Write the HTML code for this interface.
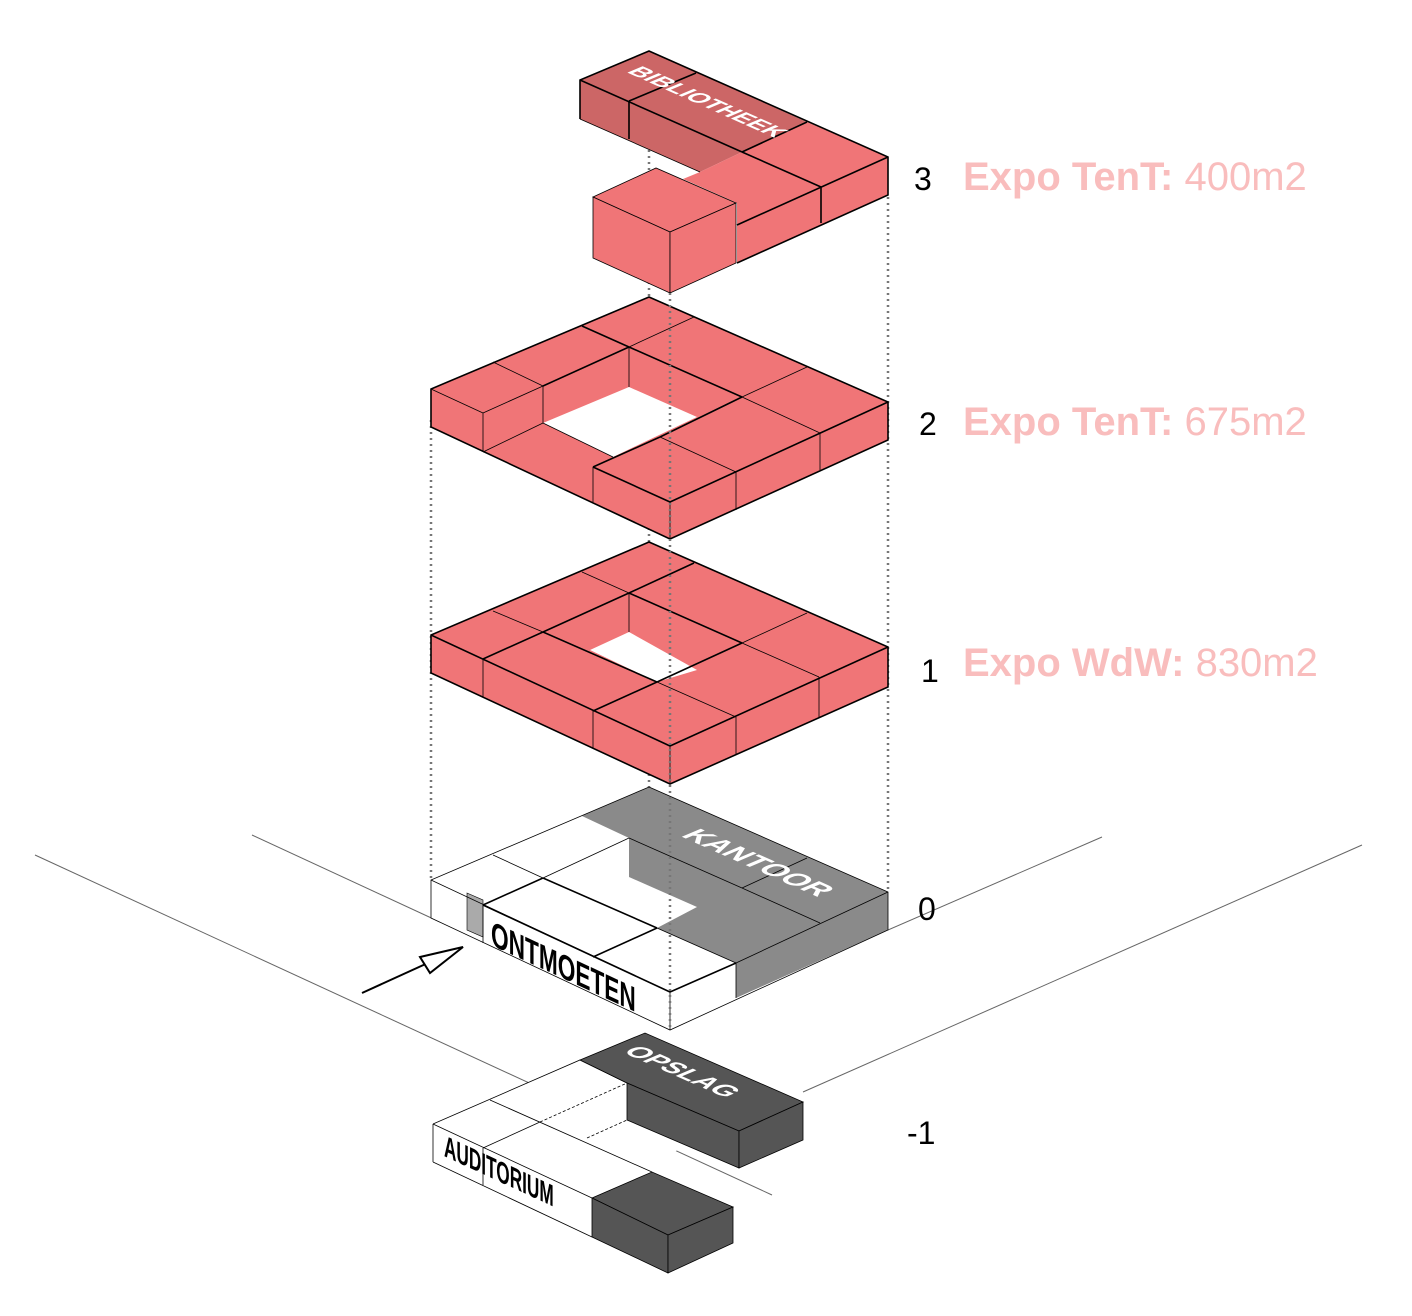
<!DOCTYPE html>
<html><head><meta charset="utf-8"><style>
html,body{margin:0;padding:0;background:#fff}
svg{display:block}
.t{stroke:#000;stroke-width:.8;fill:none}
.k{stroke:#000;stroke-width:1.6;fill:none}
.d{stroke:#777;stroke-width:2.5;stroke-dasharray:2 4;fill:none}
.g{stroke:#666;stroke-width:1;fill:none}
</style></head><body>
<svg width="1412" height="1316" viewBox="0 0 1412 1316" xmlns="http://www.w3.org/2000/svg" font-family="Liberation Sans, sans-serif">
<line class="g" x1="35" y1="855" x2="772" y2="1195"/>
<line class="g" x1="252" y1="835" x2="440" y2="922"/>
<line class="g" x1="1102" y1="837" x2="888" y2="930"/>
<line class="g" x1="1362" y1="845" x2="803" y2="1092"/>

<line class="d" x1="649" y1="150" x2="649" y2="790"/>
<line class="d" x1="431" y1="420" x2="431" y2="880"/>
<line class="d" x1="888" y1="197" x2="888" y2="892"/>

<!-- LEVEL 3 -->
<polygon points="580,80 649,51 807,122 742,152 700,172 580,119" fill="#CC6666"/>
<polygon points="683,179 700,172 742,152 807,122 888,157 888,195 737,263 737,203" fill="#F07577"/>
<polyline class="k" points="580,119 580,80 649,51 888,157 888,195 737,263"/>
<line class="k" x1="580" y1="80" x2="742" y2="152"/>
<line class="t" x1="580" y1="119" x2="700" y2="172"/>
<line class="k" x1="629" y1="101" x2="696" y2="73"/>
<line class="k" x1="629" y1="101" x2="629" y2="139"/>
<line class="k" x1="742" y1="152" x2="807" y2="122"/>
<line class="k" x1="742" y1="152" x2="821" y2="187"/>
<line class="k" x1="737" y1="225" x2="888" y2="157"/>
<line class="k" x1="821" y1="187" x2="821" y2="223"/>
<polygon points="593,197 656,168 736,203 670,232" fill="#F07577" stroke="#000" stroke-width=".8"/>
<polygon points="593,197 670,232 670,293 593,258" fill="#F07577" stroke="#000" stroke-width=".8"/>
<polygon points="670,232 736,203 736,263 670,293" fill="#F07577" stroke="#000" stroke-width=".8"/>
<text transform="matrix(0.914,0.405,-0.92,0.39,626,72)" font-size="24" font-weight="bold" fill="#fff">BIBLIOTHEEK</text>

<!-- LEVEL 2 -->
<polygon points="649,297 888,402 888,440 670,539 431,427 431,389" fill="#F07577"/>
<polygon points="543,423 629,387 697,417 613,457" fill="#fff"/>
<polygon class="k" points="649,297 888,402 888,440 670,539 431,427 431,389"/>
<line class="t" x1="431" y1="389" x2="483" y2="413"/>
<line class="t" x1="483" y1="413" x2="543" y2="386"/>
<line class="t" x1="483" y1="413" x2="483" y2="452"/>
<line class="t" x1="483" y1="452" x2="543" y2="423"/>
<line class="t" x1="493" y1="362" x2="543" y2="386"/>
<line class="t" x1="543" y1="386" x2="543" y2="423"/>
<line class="k" x1="543" y1="386" x2="629" y2="347"/>
<line class="k" x1="582" y1="326" x2="629" y2="347"/>
<line class="t" x1="629" y1="347" x2="629" y2="387"/>
<line class="k" x1="629" y1="347" x2="742" y2="397"/>
<line class="t" x1="694" y1="317" x2="629" y2="347"/>
<line class="t" x1="807" y1="367" x2="742" y2="397"/>
<line class="k" x1="742" y1="397" x2="660" y2="437"/>
<line class="t" x1="742" y1="397" x2="820" y2="433"/>
<line class="t" x1="820" y1="433" x2="888" y2="402"/>
<line class="t" x1="543" y1="423" x2="613" y2="457"/>
<line class="k" x1="593" y1="467" x2="670" y2="502"/>
<line class="k" x1="593" y1="467" x2="660" y2="437"/>
<line class="t" x1="660" y1="437" x2="736" y2="472"/>
<line class="k" x1="670" y1="502" x2="888" y2="402"/>
<line class="t" x1="593" y1="467" x2="593" y2="502"/>
<line class="t" x1="670" y1="502" x2="670" y2="539"/>
<line class="t" x1="736" y1="472" x2="736" y2="510"/>
<line class="t" x1="820" y1="433" x2="820" y2="470"/>

<!-- LEVEL 1 -->
<polygon points="649,542 888,647 888,687 670,784 431,673 431,635" fill="#F07577"/>
<polygon points="590,650 629,632 697,670 657,682" fill="#fff"/>
<polygon class="k" points="649,542 888,647 888,687 670,784 431,673 431,635"/>
<line class="k" x1="431" y1="635" x2="670" y2="746"/>
<line class="k" x1="670" y1="746" x2="888" y2="647"/>
<line class="t" x1="582" y1="572" x2="629" y2="593"/>
<line class="k" x1="694" y1="563" x2="629" y2="593"/>
<line class="t" x1="493" y1="611" x2="543" y2="632"/>
<line class="k" x1="543" y1="632" x2="629" y2="593"/>
<line class="t" x1="629" y1="593" x2="629" y2="632"/>
<line class="k" x1="629" y1="593" x2="742" y2="643"/>
<line class="t" x1="807" y1="613" x2="742" y2="643"/>
<line class="t" x1="742" y1="643" x2="819" y2="677"/>
<line class="k" x1="742" y1="643" x2="657" y2="682"/>
<line class="k" x1="483" y1="659" x2="543" y2="632"/>
<line class="k" x1="543" y1="632" x2="657" y2="682"/>
<line class="k" x1="657" y1="682" x2="593" y2="711"/>
<line class="t" x1="657" y1="682" x2="736" y2="717"/>
<line class="t" x1="483" y1="659" x2="483" y2="697"/>
<line class="t" x1="593" y1="711" x2="593" y2="748"/>
<line class="t" x1="670" y1="746" x2="670" y2="784"/>
<line class="t" x1="736" y1="717" x2="736" y2="755"/>
<line class="t" x1="819" y1="677" x2="819" y2="717"/>

<!-- LEVEL 0 -->
<polygon points="649,787 888,892 888,930 670,1030 431,918 431,880" fill="#fff"/>
<polygon points="582,816 649,787 888,892 888,930 736,998 736,963 657,928 697,907 629,877 629,838" fill="#8a8a8a"/>
<polygon points="467,893 483,900 483,937 467,930" fill="#aaa" stroke="#000" stroke-width=".6"/>
<polygon class="t" points="649,787 888,892 888,930 670,1030 431,918 431,880"/>
<line class="t" x1="431" y1="880" x2="670" y2="992"/>
<line class="k" x1="670" y1="992" x2="736" y2="963"/>
<line class="t" x1="736" y1="963" x2="888" y2="892"/>
<line class="t" x1="493" y1="855" x2="543" y2="878"/>
<line class="t" x1="543" y1="878" x2="629" y2="838"/>
<line class="k" x1="543" y1="878" x2="657" y2="928"/>
<line class="k" x1="483" y1="905" x2="543" y2="878"/>
<line class="k" x1="483" y1="905" x2="670" y2="992"/>
<line class="k" x1="593" y1="957" x2="657" y2="928"/>
<line class="t" x1="657" y1="928" x2="736" y2="963"/>
<line class="t" x1="629" y1="838" x2="742" y2="888" stroke="#333"/>
<line class="t" x1="742" y1="888" x2="820" y2="923" stroke="#333"/>
<line class="t" x1="742" y1="888" x2="807" y2="858" stroke="#333"/>
<line class="t" x1="483" y1="905" x2="483" y2="943"/>
<line class="t" x1="670" y1="992" x2="670" y2="1030"/>
<line class="t" x1="736" y1="998" x2="736" y2="963"/>
<text transform="matrix(0.907,0.42,0,1.4,491,945)" font-size="25" font-weight="bold" fill="#000">ONTMOETEN</text>
<text transform="matrix(0.914,0.405,-0.92,0.39,680,836)" font-size="30" font-weight="bold" fill="#fff">KANTOOR</text>
<line class="d" x1="670" y1="293" x2="670" y2="1030"/>

<line x1="362" y1="993" x2="430" y2="962" stroke="#000" stroke-width="2"/>
<polygon points="420,957 463,947 430,973" fill="#fff" stroke="#000" stroke-width="2"/>

<!-- LEVEL -1 -->
<polygon points="433,1124 580,1060 627,1083 627,1120 683,1145 652,1172 592,1198 592,1237 433,1162" fill="#fff"/>
<polyline class="t" points="433,1124 580,1060 627,1083"/>
<line class="t" x1="433" y1="1124" x2="433" y2="1162"/>
<line class="t" x1="433" y1="1162" x2="592" y2="1237"/>
<line class="t" x1="433" y1="1124" x2="592" y2="1198"/>
<line class="t" x1="490" y1="1100" x2="652" y2="1172"/>
<line class="t" x1="483" y1="1148" x2="540" y2="1122"/>
<line class="t" x1="540" y1="1122" x2="627" y2="1083" stroke-dasharray="3 2"/>
<line class="t" x1="587" y1="1138" x2="627" y2="1120" stroke-dasharray="3 2"/>
<line class="t" x1="483" y1="1148" x2="483" y2="1185"/>
<polygon points="580,1060 645,1033 803,1102 739,1131 627,1083" fill="#555" stroke="#000" stroke-width=".8"/>
<polygon points="627,1083 739,1131 739,1168 627,1120" fill="#555" stroke="#000" stroke-width=".8"/>
<polygon points="739,1131 803,1102 803,1140 739,1168" fill="#555" stroke="#000" stroke-width=".8"/>
<polygon points="592,1198 652,1172 733,1207 668,1235" fill="#555" stroke="#000" stroke-width=".8"/>
<polygon points="592,1198 668,1235 668,1273 592,1237" fill="#555" stroke="#000" stroke-width=".8"/>
<polygon points="668,1235 733,1207 733,1243 668,1273" fill="#555" stroke="#000" stroke-width=".8"/>
<text transform="matrix(0.914,0.405,-0.92,0.39,622,1052)" font-size="27" font-weight="bold" fill="#fff">OPSLAG</text>
<text transform="matrix(0.907,0.42,0,1.6,444,1156)" font-size="19" font-weight="bold" fill="#000">AUDITORIUM</text>

<g font-size="32" fill="#000">
<text x="914" y="190">3</text>
<text x="919" y="435">2</text>
<text x="921" y="682">1</text>
<text x="918" y="920">0</text>
<text x="907" y="1144">-1</text>
</g>
<g font-size="40" fill="#F9BDBD">
<text x="963" y="190"><tspan font-weight="bold">Expo TenT:</tspan> 400m2</text>
<text x="963" y="435"><tspan font-weight="bold">Expo TenT:</tspan> 675m2</text>
<text x="963" y="676"><tspan font-weight="bold">Expo WdW:</tspan> 830m2</text>
</g>
</svg>
</body></html>
